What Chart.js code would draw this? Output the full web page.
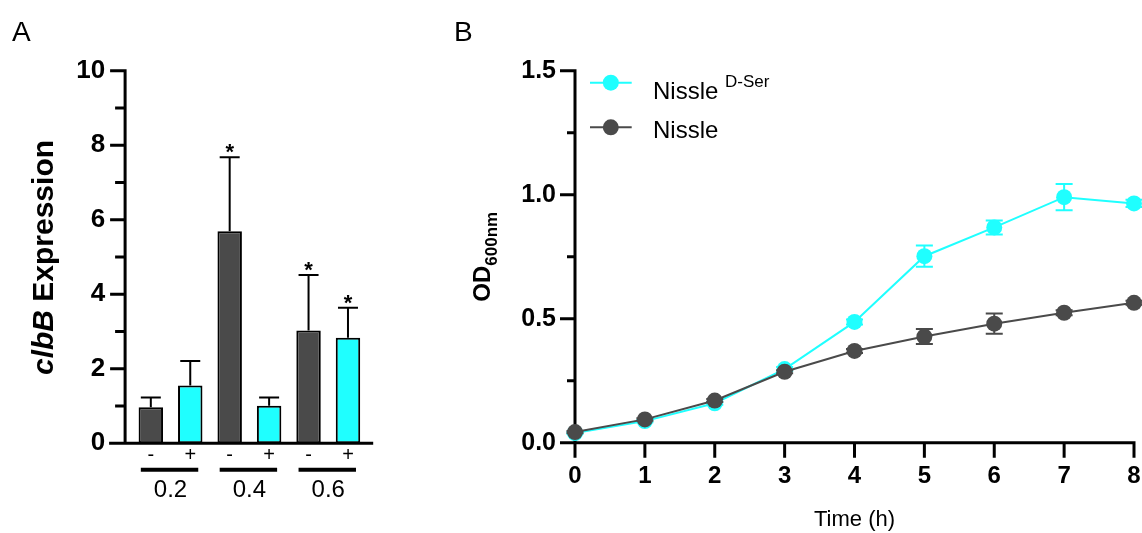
<!DOCTYPE html>
<html>
<head>
<meta charset="utf-8">
<script src="https://cdn.jsdelivr.net/npm/chart.js@4.4.1/dist/chart.umd.min.js"></script>
<style>
  body { margin: 0; background: #fff; width: 1142px; height: 533px; overflow: hidden; position: relative; }
  #exprChart { position: absolute; left: 0; top: 0; }
  #growthChart { position: absolute; left: 420px; top: 0; }
</style>
</head>
<body>
<canvas id="exprChart" width="420" height="533"></canvas>
<canvas id="growthChart" width="722" height="533"></canvas>
<script>
// panel A: clbB expression, D-serine -/+ at three ODs
var groups = ['0.2', '0.4', '0.6'];
var serum = ['-', '+', '-', '+', '-', '+'];
var clbB = [0.97, 1.55, 5.69, 1.01, 3.03, 2.83];
var clbBErr = [0.26, 0.66, 1.99, 0.22, 1.49, 0.81];
var signif = ['', '', '*', '', '*', '*'];

// panel B: growth curves
var hours = [0, 1, 2, 3, 4, 5, 6, 7, 8];
var odNissle = [0.043, 0.094, 0.170, 0.286, 0.370, 0.428, 0.480, 0.524, 0.564];
var odNissleErr = [0.004, 0.005, 0.006, 0.006, 0.008, 0.030, 0.041, 0.010, 0.008];
var odDSer = [0.039, 0.087, 0.159, 0.297, 0.487, 0.752, 0.868, 0.990, 0.965];
var odDSerErr = [0.004, 0.005, 0.006, 0.008, 0.010, 0.043, 0.028, 0.053, 0.015];
var seriesNames = ['Nissle', 'Nissle'];
var seriesSup = ['D-Ser', ''];

var CYAN = '#1fffff';
var GREY = '#4a4a4a';
var FONT = "'Liberation Sans', Arial, Helvetica, sans-serif";
Chart.defaults.font.family = FONT;
Chart.defaults.color = '#000';

var exprDecor = {
    id: 'exprDecor',
    afterDatasetsDraw: function(chart) {
        var ctx = chart.ctx, area = chart.chartArea;
        var x = chart.scales.x, y = chart.scales.y;
        var y0 = y.getPixelForValue(0);
        var axisX = area.left - 6;
        ctx.save();
        ctx.strokeStyle = '#000';
        ctx.fillStyle = '#000';

        // upper error bars + stars
        ctx.lineWidth = 2;
        clbB.forEach(function(v, i) {
            var cx = x.getPixelForValue(i);
            var yv = y.getPixelForValue(v), ye = y.getPixelForValue(v + clbBErr[i]);
            ctx.beginPath();
            ctx.moveTo(cx, yv); ctx.lineTo(cx, ye);
            ctx.moveTo(cx - 10, ye); ctx.lineTo(cx + 10, ye);
            ctx.stroke();
            if (signif[i]) {
                ctx.font = 'bold 22px ' + FONT;
                ctx.textAlign = 'center';
                ctx.textBaseline = 'alphabetic';
                ctx.fillText(signif[i], cx, ye + 2);
            }
        });

        // axes and ticks
        ctx.lineWidth = 3;
        ctx.beginPath();
        ctx.moveTo(axisX, y.getPixelForValue(10) - 1.5); ctx.lineTo(axisX, y0);
        ctx.moveTo(axisX - 16, y0); ctx.lineTo(area.right + 5.5, y0);
        for (var v = 1; v <= 10; v++) {
            var py = y.getPixelForValue(v);
            ctx.moveTo(axisX - (v % 2 ? 10 : 15), py); ctx.lineTo(axisX, py);
        }
        ctx.stroke();

        // group bars and OD labels
        ctx.lineWidth = 4;
        ctx.font = '24px ' + FONT;
        ctx.textAlign = 'center';
        ctx.textBaseline = 'middle';
        groups.forEach(function(g, k) {
            var a = x.getPixelForValue(2 * k), b = x.getPixelForValue(2 * k + 1);
            ctx.beginPath();
            ctx.moveTo(a - 10, y0 + 26.5); ctx.lineTo(b + 8, y0 + 26.5);
            ctx.stroke();
            ctx.fillText(g, (a + b) / 2, y0 + 47);
        });

        // y title, gene name in italics
        ctx.translate(45, (area.top + y0) / 2 + 0.5);
        ctx.rotate(-Math.PI / 2);
        var f1 = 'italic bold 30px ' + FONT, f2 = 'bold 30px ' + FONT;
        ctx.font = f1; var w1 = ctx.measureText('clbB').width;
        ctx.font = f2; var w2 = ctx.measureText(' Expression').width;
        ctx.textAlign = 'left';
        ctx.font = f1; ctx.fillText('clbB', -(w1 + w2) / 2, 0);
        ctx.font = f2; ctx.fillText(' Expression', -(w1 + w2) / 2 + w1, 0);
        ctx.restore();

        ctx.save();
        ctx.fillStyle = '#000';
        ctx.font = '28px ' + FONT;
        ctx.textBaseline = 'alphabetic';
        ctx.fillText('A', 12, 41);
        ctx.restore();
    }
};

new Chart(document.getElementById('exprChart'), {
    type: 'bar',
    data: {
        labels: serum,
        datasets: [{
            data: clbB,
            backgroundColor: serum.map(function(s) { return s === '+' ? CYAN : GREY; }),
            borderColor: '#000',
            borderWidth: 2,
            borderSkipped: false,
            barPercentage: 0.62,
            categoryPercentage: 1
        }]
    },
    options: {
        responsive: false,
        animation: false,
        events: [],
        layout: { padding: { top: 70.7, right: 52.3, bottom: 0, left: 0 } },
        plugins: { legend: { display: false }, tooltip: { enabled: false } },
        scales: {
            x: {
                grid: { display: false, drawTicks: false },
                border: { display: false },
                ticks: { font: { size: 20 }, padding: 0, maxRotation: 0 },
                afterFit: function(s) { s.height = 89.7; }
            },
            y: {
                min: 0, max: 10,
                grid: { display: false, drawTicks: false },
                border: { display: false },
                ticks: { stepSize: 2, font: { size: 26, weight: 'bold' }, padding: 26 },
                afterFit: function(s) { s.width = 131.1; }
            }
        }
    },
    plugins: [exprDecor]
});

var growthDecor = {
    id: 'growthDecor',
    beforeDatasetsDraw: function(chart) {
        var ctx = chart.ctx, area = chart.chartArea;
        var x = chart.scales.x, y = chart.scales.y;
        var y0 = y.getPixelForValue(0);
        ctx.save();
        ctx.strokeStyle = '#000';
        ctx.lineWidth = 3;
        ctx.beginPath();
        ctx.moveTo(area.left, y.getPixelForValue(1.5) - 1.5); ctx.lineTo(area.left, y0);
        ctx.moveTo(area.left, y0); ctx.lineTo(area.right + 1.5, y0);
        [0, 0.25, 0.5, 0.75, 1, 1.25, 1.5].forEach(function(v, i) {
            var py = y.getPixelForValue(v);
            ctx.moveTo(area.left - (i % 2 ? 8 : 15), py); ctx.lineTo(area.left, py);
        });
        hours.forEach(function(h) {
            var px = x.getPixelForValue(h);
            ctx.moveTo(px, y0); ctx.lineTo(px, y0 + 15);
        });
        ctx.stroke();
        ctx.restore();
    },
    beforeDatasetDraw: function(chart, args) {
        var ds = chart.data.datasets[args.index];
        var ctx = chart.ctx, x = chart.scales.x, y = chart.scales.y;
        ctx.save();
        ctx.strokeStyle = ds.borderColor;
        ctx.lineWidth = 2;
        ctx.beginPath();
        ds.data.forEach(function(p, i) {
            var px = x.getPixelForValue(p.x);
            var lo = y.getPixelForValue(p.y - ds.err[i]), hi = y.getPixelForValue(p.y + ds.err[i]);
            ctx.moveTo(px, lo); ctx.lineTo(px, hi);
            ctx.moveTo(px - 8.5, lo); ctx.lineTo(px + 8.5, lo);
            ctx.moveTo(px - 8.5, hi); ctx.lineTo(px + 8.5, hi);
        });
        ctx.stroke();
        ctx.restore();
    },
    afterDraw: function(chart) {
        var ctx = chart.ctx, area = chart.chartArea;
        var y = chart.scales.y;
        ctx.save();
        ctx.fillStyle = '#000';

        // legend, drawn in the order cyan then grey
        var legendOrder = [1, 0], rowY = [82.7, 127.3], textY = [99, 137.5];
        legendOrder.forEach(function(di, r) {
            var ds = chart.data.datasets[di];
            ctx.strokeStyle = ds.borderColor;
            ctx.fillStyle = ds.borderColor;
            ctx.lineWidth = 2;
            ctx.beginPath();
            ctx.moveTo(170, rowY[r]); ctx.lineTo(211.7, rowY[r]);
            ctx.stroke();
            ctx.beginPath();
            ctx.arc(190.8, rowY[r], 8, 0, Math.PI * 2);
            ctx.fill();
            ctx.fillStyle = '#000';
            ctx.textAlign = 'left';
            ctx.textBaseline = 'alphabetic';
            ctx.font = '24px ' + FONT;
            ctx.fillText(seriesNames[r], 233, textY[r]);
            if (seriesSup[r]) {
                var w = ctx.measureText(seriesNames[r] + ' ').width;
                ctx.font = '17px ' + FONT;
                ctx.fillText(seriesSup[r], 233 + w, textY[r] - 12);
            }
        });

        // y title OD with 600nm subscript
        ctx.translate(70, (area.top + y.getPixelForValue(0)) / 2);
        ctx.rotate(-Math.PI / 2);
        ctx.fillStyle = '#000';
        var fMain = 'bold 24px ' + FONT, fSub = 'bold 17px ' + FONT;
        ctx.font = fMain; var wm = ctx.measureText('OD').width;
        ctx.font = fSub; var ws = ctx.measureText('600nm').width;
        ctx.textAlign = 'left';
        ctx.textBaseline = 'alphabetic';
        ctx.font = fMain; ctx.fillText('OD', -(wm + ws) / 2, 0);
        ctx.font = fSub; ctx.fillText('600nm', -(wm + ws) / 2 + wm, 7);
        ctx.restore();

        ctx.save();
        ctx.fillStyle = '#000';
        ctx.font = '28px ' + FONT;
        ctx.fillText('B', 34, 41);
        ctx.restore();
    }
};

function points(ys) {
    return hours.map(function(h, i) { return { x: h, y: ys[i] }; });
}

new Chart(document.getElementById('growthChart'), {
    type: 'line',
    data: {
        datasets: [{
            label: seriesNames[1],
            data: points(odNissle),
            err: odNissleErr,
            borderColor: GREY,
            backgroundColor: GREY,
            pointBackgroundColor: GREY,
            borderWidth: 2,
            pointRadius: 8,
            pointBorderWidth: 0,
            tension: 0,
            clip: false
        }, {
            label: seriesNames[0] + ' ' + seriesSup[0],
            data: points(odDSer),
            err: odDSerErr,
            borderColor: CYAN,
            backgroundColor: CYAN,
            pointBackgroundColor: CYAN,
            borderWidth: 2,
            pointRadius: 8,
            pointBorderWidth: 0,
            tension: 0,
            clip: false
        }]
    },
    options: {
        responsive: false,
        animation: false,
        events: [],
        layout: { padding: { top: 70.7, right: 7, bottom: 0, left: 0 } },
        plugins: { legend: { display: false }, tooltip: { enabled: false } },
        scales: {
            x: {
                type: 'linear',
                min: 0, max: 8,
                grid: { display: false, drawTicks: false },
                border: { display: false },
                ticks: { stepSize: 1, font: { size: 24, weight: 'bold' }, padding: 19, maxRotation: 0 },
                title: { display: true, text: 'Time (h)', font: { size: 22 }, padding: 0 },
                afterFit: function(s) {
                    s.height = 90.3;
                    s.paddingLeft = 0;
                    s.paddingRight = 0;
                }
            },
            y: {
                min: 0, max: 1.5,
                grid: { display: false, drawTicks: false },
                border: { display: false },
                ticks: {
                    stepSize: 0.5,
                    font: { size: 25, weight: 'bold' },
                    padding: 19,
                    callback: function(v) { return v.toFixed(1); }
                },
                afterFit: function(s) {
                    s.width = 155;
                    s.paddingTop = 0;
                    s.paddingBottom = 0;
                }
            }
        }
    },
    plugins: [growthDecor]
});
</script>
</body>
</html>
